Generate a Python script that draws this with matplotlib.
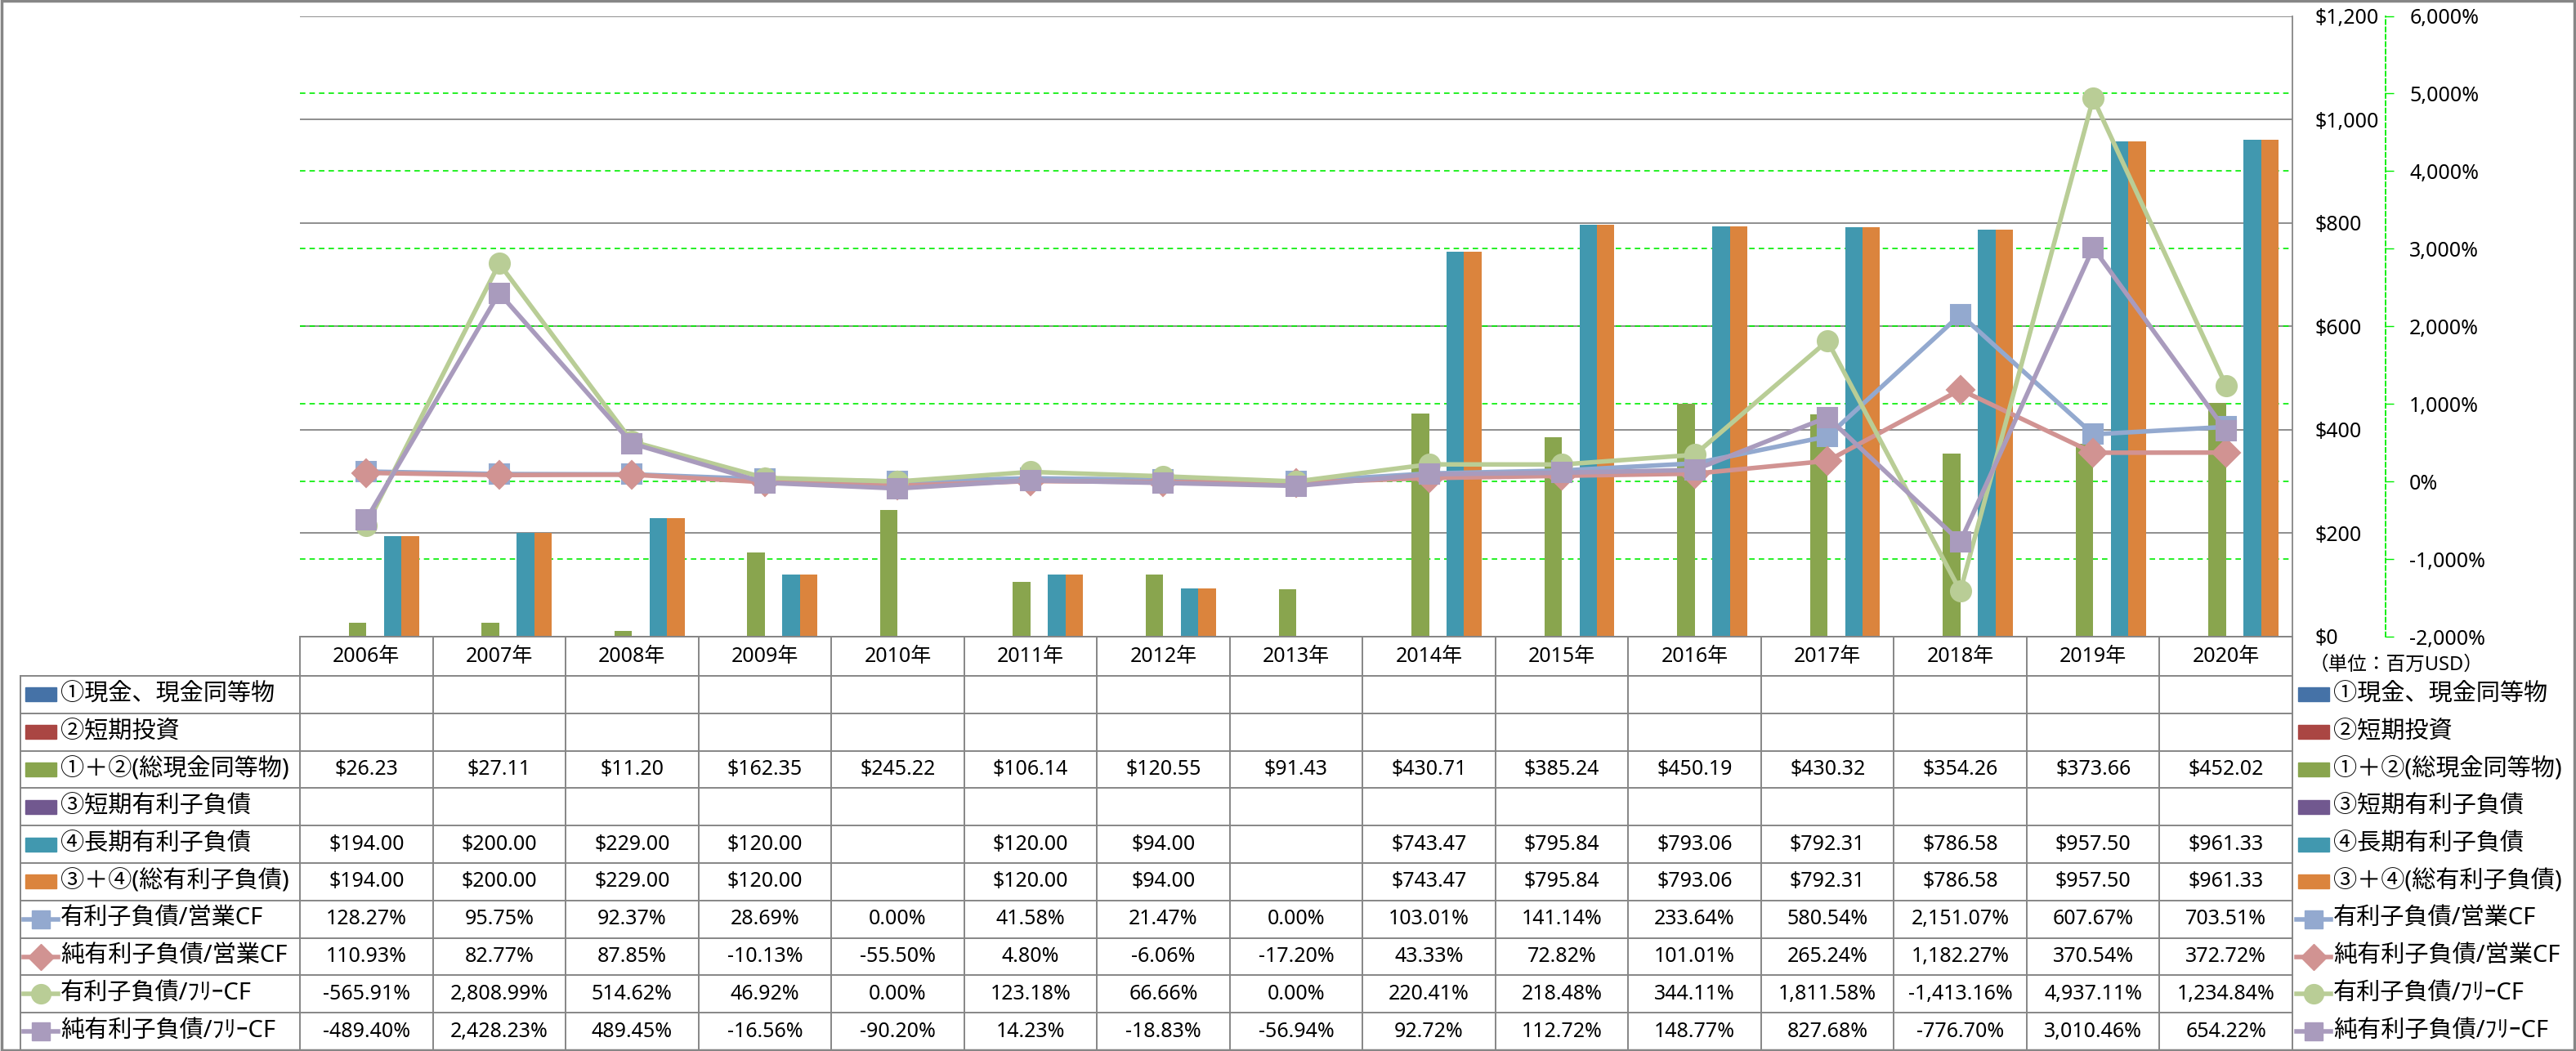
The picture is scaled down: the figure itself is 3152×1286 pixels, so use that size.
import numpy as np
import matplotlib
matplotlib.use("Agg")
from matplotlib import pyplot as plt
from matplotlib.patches import Rectangle
from matplotlib.lines import Line2D

plt.rcParams['font.family'] = ['Noto Sans', 'Noto Sans CJK JP', 'DejaVu Sans']

# data (単位：百万USD / %)
years = ["2006年", "2007年", "2008年", "2009年", "2010年", "2011年", "2012年", "2013年",
         "2014年", "2015年", "2016年", "2017年", "2018年", "2019年", "2020年"]
cash = [None] * 15            # ①現金、現金同等物 (no values)
st_invest = [None] * 15       # ②短期投資 (no values)
total_cash = [26.23, 27.11, 11.20, 162.35, 245.22, 106.14, 120.55, 91.43,
              430.71, 385.24, 450.19, 430.32, 354.26, 373.66, 452.02]
st_debt = [None] * 15         # ③短期有利子負債 (no values)
lt_debt = [194.00, 200.00, 229.00, 120.00, None, 120.00, 94.00, None,
           743.47, 795.84, 793.06, 792.31, 786.58, 957.50, 961.33]
total_debt = [194.00, 200.00, 229.00, 120.00, None, 120.00, 94.00, None,
              743.47, 795.84, 793.06, 792.31, 786.58, 957.50, 961.33]
debt_ocf = [128.27, 95.75, 92.37, 28.69, 0.00, 41.58, 21.47, 0.00,
            103.01, 141.14, 233.64, 580.54, 2151.07, 607.67, 703.51]
net_debt_ocf = [110.93, 82.77, 87.85, -10.13, -55.50, 4.80, -6.06, -17.20,
                43.33, 72.82, 101.01, 265.24, 1182.27, 370.54, 372.72]
debt_fcf = [-565.91, 2808.99, 514.62, 46.92, 0.00, 123.18, 66.66, 0.00,
            220.41, 218.48, 344.11, 1811.58, -1413.16, 4937.11, 1234.84]
net_debt_fcf = [-489.40, 2428.23, 489.45, -16.56, -90.20, 14.23, -18.83, -56.94,
                92.72, 112.72, 148.77, 827.68, -776.70, 3010.46, 654.22]

bar_series = [
    ("①現金、現金同等物", cash, "#4572A7"),
    ("②短期投資", st_invest, "#AA4643"),
    ("①＋②(総現金同等物)", total_cash, "#89A54E"),
    ("③短期有利子負債", st_debt, "#71588F"),
    ("④長期有利子負債", lt_debt, "#4198AF"),
    ("③＋④(総有利子負債)", total_debt, "#DB843D"),
]
line_series = [
    ("有利子負債/営業CF", debt_ocf, "#93A9CF", "s", 17),
    ("純有利子負債/営業CF", net_debt_ocf, "#D19392", "D", 17),
    ("有利子負債/ﾌﾘｰCF", debt_fcf, "#B9CD96", "o", 18),
    ("純有利子負債/ﾌﾘｰCF", net_debt_fcf, "#A99BBD", "s", 17),
]

W, H = 3152, 1286
GRID = "#868686"


def fx(x):
    return x / W


def fy(y):
    return 1 - y / H


fig = plt.figure(figsize=(W / 100, H / 100), dpi=100)

plot_l, plot_r, plot_t, plot_b = 367, 2805, 19.5, 779
ax = fig.add_axes([fx(plot_l), fy(plot_b), fx(plot_r) - fx(plot_l), fy(plot_t) - fy(plot_b)])
n = len(years)
x = np.arange(n)
ax.set_xlim(-0.5, n - 0.5)
ax.set_ylim(0, 1200)

# bars, 6 slots per year
bw = 0.132
for slot, (name, vals, color) in enumerate(bar_series):
    xs = [xi + (slot - 2.5) * bw for xi, v in zip(x, vals) if v is not None]
    hs = [v for v in vals if v is not None]
    if hs:
        ax.bar(xs, hs, width=bw, color=color, zorder=3)

# gridlines
pct_ticks = list(range(-2000, 6001, 1000))
ax.set_yticks(range(0, 1201, 200), labels=[f"${v:,}" for v in range(0, 1201, 200)])
ax.yaxis.grid(True, color=GRID, lw=1.3)
for p in pct_ticks[1:-1]:
    ax.axhline((p + 2000) * 1200 / 8000, color="#00ee00", lw=1.2, ls=(0, (4, 3)), zorder=1)
ax.set_axisbelow(True)
ax.set_xticks([])
for s in ["left", "top"]:
    ax.spines[s].set_visible(False)
ax.spines["right"].set_color(GRID)
ax.spines["bottom"].set_color(GRID)
ax.spines["right"].set_linewidth(1.3)
ax.spines["bottom"].set_linewidth(1.3)

# percent axis
ax2 = ax.twinx()
ax.yaxis.tick_right()
ax.tick_params(axis="y", length=0, pad=20, labelsize=18)
ax2.set_xlim(-0.5, n - 0.5)
ax2.set_ylim(-2000, 6000)
for name, vals, color, mk, ms in line_series:
    ax2.plot(x, vals, color=color, lw=4, marker=mk, ms=ms, mec=color, mew=1.5,
             solid_joinstyle="round", zorder=4)
ax2.set_yticks(pct_ticks, labels=[f"{p:,}%" for p in pct_ticks])
for lab, p in zip(ax2.get_yticklabels(), pct_ticks):
    if p < 0:
        lab.set_color("red")
ax2.spines["right"].set_position(("axes", (2919 - plot_l) / (plot_r - plot_l)))
ax2.spines["right"].set_color("#00ee00")
ax2.spines["right"].set_linestyle((0, (3, 2)))
ax2.spines["right"].set_linewidth(1.3)
for s in ["left", "top", "bottom"]:
    ax2.spines[s].set_visible(False)
ax2.tick_params(axis="y", length=7, width=1, color="#00ee00", pad=14, labelsize=18)

# data table
col_w = (plot_r - plot_l) / n
tbl_l = 25
head_t, head_b, tbl_b = 779, 827, 1285
row_h = (tbl_b - head_b) / 10


def hline(x0, x1, y):
    fig.add_artist(Line2D([fx(x0), fx(x1)], [fy(y), fy(y)], color=GRID, lw=1.4))


def vline(xv, y0, y1):
    fig.add_artist(Line2D([fx(xv), fx(xv)], [fy(y0), fy(y1)], color=GRID, lw=1.4))


hline(plot_l, plot_r, head_t)
for i in range(11):
    hline(tbl_l, plot_r, head_b + i * row_h)
vline(tbl_l, head_b, tbl_b)
for j in range(n + 1):
    vline(plot_l + j * col_w, head_t, tbl_b)

for j, yr in enumerate(years):
    fig.text(fx(plot_l + (j + 0.5) * col_w), fy((head_t + head_b) / 2), yr,
             ha="center", va="center", fontsize=18)

rows = [(nm, vals, c, None, None) for nm, vals, c in bar_series] + \
       [(nm, vals, c, mk, ms) for nm, vals, c, mk, ms in line_series]


def legend_key(x0, yc, color, mk, ms):
    if mk is None:
        fig.add_artist(Rectangle((fx(x0), fy(yc + 8.5)), fx(38), 17 / H, color=color))
    else:
        fig.add_artist(Line2D([fx(x0 - 2), fx(x0 + 40)], [fy(yc), fy(yc)], color=color, lw=4))
        fig.add_artist(Line2D([fx(x0 + 19)], [fy(yc)], color=color, marker=mk, ms=ms * 0.95,
                              mec=color))


for i, (nm, vals, color, mk, ms) in enumerate(rows):
    yc = head_b + (i + 0.5) * row_h
    legend_key(31, yc, color, mk, ms)
    fig.text(fx(74), fy(yc), nm, ha="left", va="center", fontsize=21)
    legend_key(2812, yc, color, mk, ms)
    fig.text(fx(2855), fy(yc), nm, ha="left", va="center", fontsize=21)
    for j, v in enumerate(vals):
        if v is None:
            continue
        s = f"${v:,.2f}" if mk is None else f"{v:,.2f}%"
        fig.text(fx(plot_l + (j + 0.5) * col_w), fy(yc), s, ha="center", va="center", fontsize=18)

fig.text(fx(2826), fy(814), "（単位：百万USD）", ha="left", va="center", fontsize=17)

# outer border
fig.add_artist(Rectangle((0.0005, 0.001), 0.999, 0.998, fill=False, ec=GRID, lw=2.5))

fig.savefig("out.png", dpi=100)
